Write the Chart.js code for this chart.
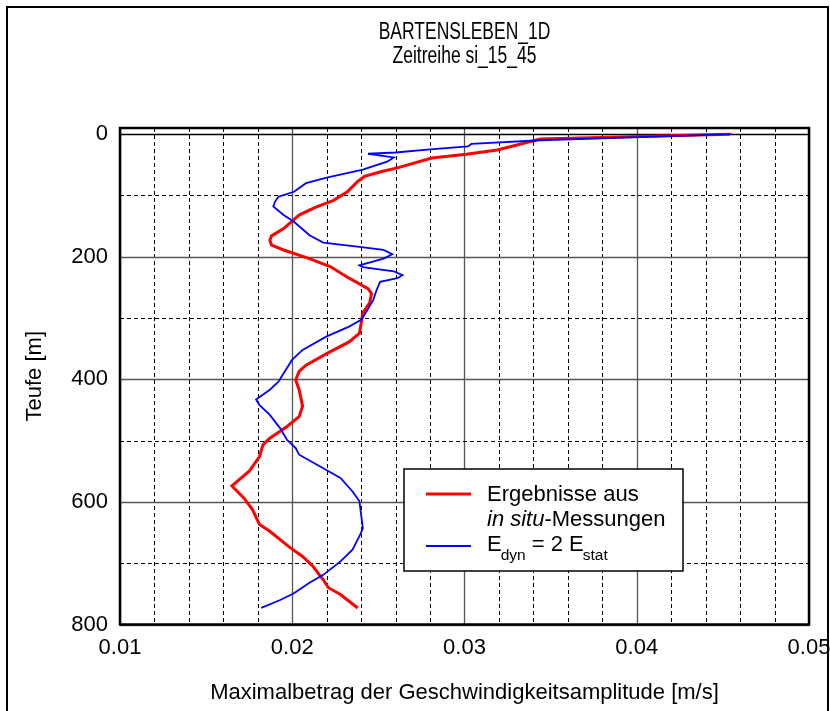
<!DOCTYPE html>
<html>
<head>
<meta charset="utf-8">
<script src="https://cdn.jsdelivr.net/npm/chart.js@4.4.1/dist/chart.umd.min.js"></script>
<style>
  html, body { margin: 0; padding: 0; background: #fff; }
  canvas { display: block; }
</style>
</head>
<body>
<canvas id="profileChart" width="830" height="711"></canvas>
<script>
const FONT = '"Liberation Sans", Arial, sans-serif';

// tick labels
const xTicks = [0.01, 0.02, 0.03, 0.04, 0.05];
const yTicks = [0, 200, 400, 600, 800];
// grid steps
const xGrid = [0.01, 0.012, 0.014, 0.016, 0.018, 0.02, 0.022, 0.024, 0.026, 0.028, 0.03,
  0.032, 0.034, 0.036, 0.038, 0.04, 0.042, 0.044, 0.046, 0.048, 0.05];
const yGrid = [0, 100, 200, 300, 400, 500, 600, 700, 800];

// Ergebnisse aus in situ-Messungen (Teufe m / Amplitude m/s)
const redDepth = [0, 8, 26, 33, 39, 55, 61, 69, 77, 94, 108, 120, 132, 154, 166, 173, 181, 189, 203, 216,
  235, 252, 260, 275, 292, 309, 325, 339, 358, 377, 387, 401, 417, 444, 461, 477, 496, 507, 526, 550,
  574, 594, 613, 637, 648, 673, 689, 705, 727, 740, 751, 762, 773];
const redAmp = [0.0454, 0.0344, 0.0319, 0.0301, 0.0281, 0.0261, 0.0252, 0.0242, 0.0238, 0.0232, 0.0224, 0.0213, 0.0204, 0.0195, 0.0188, 0.0187, 0.0188, 0.0195, 0.0210, 0.0222,
  0.0233, 0.0244, 0.0246, 0.0245, 0.0241, 0.0240, 0.0239, 0.0233, 0.0220, 0.0208, 0.0204, 0.0202, 0.0204, 0.0206, 0.0204, 0.0197, 0.0187, 0.0183, 0.0181, 0.0175,
  0.0165, 0.0172, 0.0177, 0.0181, 0.0187, 0.0198, 0.0206, 0.0212, 0.0218, 0.0221, 0.0228, 0.0233, 0.0238];

// E_dyn = 2 E_stat
const blueDepth = [0, 10, 16, 20, 25, 30, 32, 38, 45, 58, 71, 80, 94, 102, 110, 118, 132, 143, 165, 177,
  184, 189, 196, 203, 214, 217, 224, 230, 235, 241, 254, 271, 290, 303, 314, 330, 352, 368, 390, 404,
  417, 433, 442, 458, 480, 499, 512, 523, 545, 561, 583, 599, 621, 643, 656, 678, 697, 719, 732, 749, 760, 773];
const blueAmp = [0.0455, 0.0344, 0.0304, 0.0302, 0.0280, 0.0260, 0.0244, 0.0259, 0.0255, 0.0241, 0.0220, 0.0208, 0.0201, 0.0192, 0.0190, 0.0189, 0.0195, 0.0201, 0.0210, 0.0218,
  0.0239, 0.0253, 0.0258, 0.0253, 0.0239, 0.0241, 0.0259, 0.0264, 0.0261, 0.0251, 0.0249, 0.0247, 0.0243, 0.0240, 0.0233, 0.0220, 0.0206, 0.0200, 0.0195, 0.0192,
  0.0187, 0.0179, 0.0181, 0.0187, 0.0193, 0.0197, 0.0202, 0.0204, 0.0218, 0.0228, 0.0235, 0.0239, 0.0240, 0.0241, 0.0239, 0.0235, 0.0228, 0.0218, 0.0210, 0.0201, 0.0193, 0.0182];

const RED = 'rgb(255,0,0)';
const BLUE = 'rgb(0,0,255)';

function toPoints(depth, amp) {
  return depth.map((d, i) => ({ x: amp[i], y: d }));
}

function isListed(v, list) {
  return list.some(t => Math.abs(t - v) < 1e-9);
}

// background, frame, titles, custom grid and legend
const decor = {
  id: 'decor',
  beforeDraw(chart) {
    const ctx = chart.ctx;
    const cx = (chart.chartArea.left + chart.chartArea.right) / 2;
    ctx.save();
    ctx.fillStyle = '#fff';
    ctx.fillRect(0, 0, chart.width, chart.height);
    ctx.strokeStyle = '#000';
    ctx.lineWidth = 2;
    ctx.strokeRect(7, 7, 821, 800);

    ctx.fillStyle = '#000';
    ctx.font = '23px ' + FONT;
    ctx.textAlign = 'center';
    ctx.textBaseline = 'middle';
    [['BARTENSLEBEN_1D', 33], ['Zeitreihe si_15_45', 57]].forEach(([txt, ty]) => {
      ctx.save();
      ctx.translate(cx, ty);
      ctx.scale(0.76, 1);
      ctx.fillText(txt, 0, 0);
      ctx.restore();
    });
    ctx.restore();
  },
  beforeDatasetsDraw(chart) {
    const { ctx, chartArea: a, scales: { x, y } } = chart;
    ctx.save();
    x.ticks.forEach(t => {
      const px = Math.round(x.getPixelForValue(t.value)) + 0.5;
      ctx.beginPath();
      if (isListed(t.value, xTicks)) {
        ctx.setLineDash([]);
        ctx.strokeStyle = '#555';
        ctx.lineWidth = 1.3;
      } else {
        ctx.setLineDash([4, 3]);
        ctx.strokeStyle = '#000';
        ctx.lineWidth = 1;
      }
      ctx.moveTo(px, a.top);
      ctx.lineTo(px, a.bottom);
      ctx.stroke();
    });
    y.ticks.forEach(t => {
      const py = Math.round(y.getPixelForValue(t.value)) + 0.5;
      ctx.beginPath();
      if (t.value === 0) {
        ctx.setLineDash([]);
        ctx.strokeStyle = '#000';
        ctx.lineWidth = 1.5;
      } else if (isListed(t.value, yTicks)) {
        ctx.setLineDash([]);
        ctx.strokeStyle = '#555';
        ctx.lineWidth = 1.3;
      } else {
        ctx.setLineDash([4, 3]);
        ctx.strokeStyle = '#000';
        ctx.lineWidth = 1;
      }
      ctx.moveTo(a.left, py);
      ctx.lineTo(a.right, py);
      ctx.stroke();
    });
    ctx.restore();
  },
  afterDatasetsDraw(chart) {
    const { ctx, chartArea: a } = chart;
    ctx.save();
    ctx.strokeStyle = '#000';
    ctx.lineWidth = 2.5;
    ctx.strokeRect(a.left, a.top, a.right - a.left, a.bottom - a.top);

    // legend box
    const bx = 404, by = 469, bw = 279, bh = 102;
    ctx.fillStyle = '#fff';
    ctx.fillRect(bx, by, bw, bh);
    ctx.lineWidth = 1.5;
    ctx.strokeRect(bx, by, bw, bh);

    const ds = chart.data.datasets;
    ctx.lineWidth = ds[0].borderWidth;
    ctx.strokeStyle = ds[0].borderColor;
    ctx.beginPath(); ctx.moveTo(426, 494); ctx.lineTo(471, 494); ctx.stroke();
    ctx.lineWidth = ds[1].borderWidth;
    ctx.strokeStyle = ds[1].borderColor;
    ctx.beginPath(); ctx.moveTo(426, 546); ctx.lineTo(471, 546); ctx.stroke();

    ctx.fillStyle = '#000';
    ctx.textAlign = 'left';
    ctx.textBaseline = 'alphabetic';
    ctx.font = '22px ' + FONT;
    ctx.fillText('Ergebnisse aus', 487, 501);

    let tx = 487;
    ctx.font = 'italic 22px ' + FONT;
    ctx.fillText('in situ', tx, 526);
    tx += ctx.measureText('in situ').width;
    ctx.font = '22px ' + FONT;
    ctx.fillText('-Messungen', tx, 526);

    tx = 487;
    const parts = [['E', false], ['dyn', true], [' = 2 E', false], ['stat', true]];
    parts.forEach(([txt, sub]) => {
      ctx.font = (sub ? '15.5px ' : '22px ') + FONT;
      if (sub) tx -= 1;
      ctx.fillText(txt, tx, sub ? 560 : 551);
      tx += ctx.measureText(txt).width;
    });
    ctx.restore();
  }
};

new Chart(document.getElementById('profileChart').getContext('2d'), {
  type: 'scatter',
  data: {
    datasets: [
      {
        label: 'Ergebnisse aus in situ-Messungen',
        data: toPoints(redDepth, redAmp),
        showLine: true,
        borderColor: RED,
        backgroundColor: RED,
        borderWidth: 3,
        pointRadius: 0,
        tension: 0,
        order: 2
      },
      {
        label: 'E_dyn = 2 E_stat',
        data: toPoints(blueDepth, blueAmp),
        showLine: true,
        borderColor: BLUE,
        backgroundColor: BLUE,
        borderWidth: 1.8,
        pointRadius: 0,
        tension: 0,
        order: 1
      }
    ]
  },
  options: {
    responsive: false,
    animation: false,
    events: [],
    layout: { padding: { left: 0, top: 128, right: 21, bottom: 0 } },
    plugins: { legend: { display: false }, tooltip: { enabled: false } },
    scales: {
      x: {
        type: 'linear',
        min: 0.01,
        max: 0.05,
        grid: { display: false },
        border: { display: false },
        afterBuildTicks: s => { s.ticks = xGrid.map(v => ({ value: v })); },
        ticks: {
          autoSkip: false,
          maxRotation: 0,
          padding: 2,
          color: '#000',
          font: { family: FONT, size: 22 },
          callback: v => isListed(v, xTicks) ? String(+v.toFixed(2)) : ''
        },
        title: {
          display: true,
          text: 'Maximalbetrag der Geschwindigkeitsamplitude [m/s]',
          color: '#000',
          font: { family: FONT, size: 22 },
          padding: { top: 0, bottom: 5 }
        },
        afterFit: s => { s.height = 86.5; s.paddingLeft = 0; s.paddingRight = 0; }
      },
      y: {
        type: 'linear',
        reverse: true,
        min: -10,
        max: 800,
        grid: { display: false },
        border: { display: false },
        afterBuildTicks: s => { s.ticks = yGrid.map(v => ({ value: v })); },
        ticks: {
          autoSkip: false,
          padding: 4,
          color: '#000',
          font: { family: FONT, size: 22 },
          callback: v => isListed(v, yTicks) ? String(v) : ''
        },
        title: {
          display: true,
          text: 'Teufe [m]',
          color: '#000',
          font: { family: FONT, size: 22 },
          padding: { top: 22, bottom: 0 }
        },
        afterFit: s => { s.width = 120; s.paddingTop = 0; s.paddingBottom = 0; }
      }
    }
  },
  plugins: [decor]
});
</script>
</body>
</html>
